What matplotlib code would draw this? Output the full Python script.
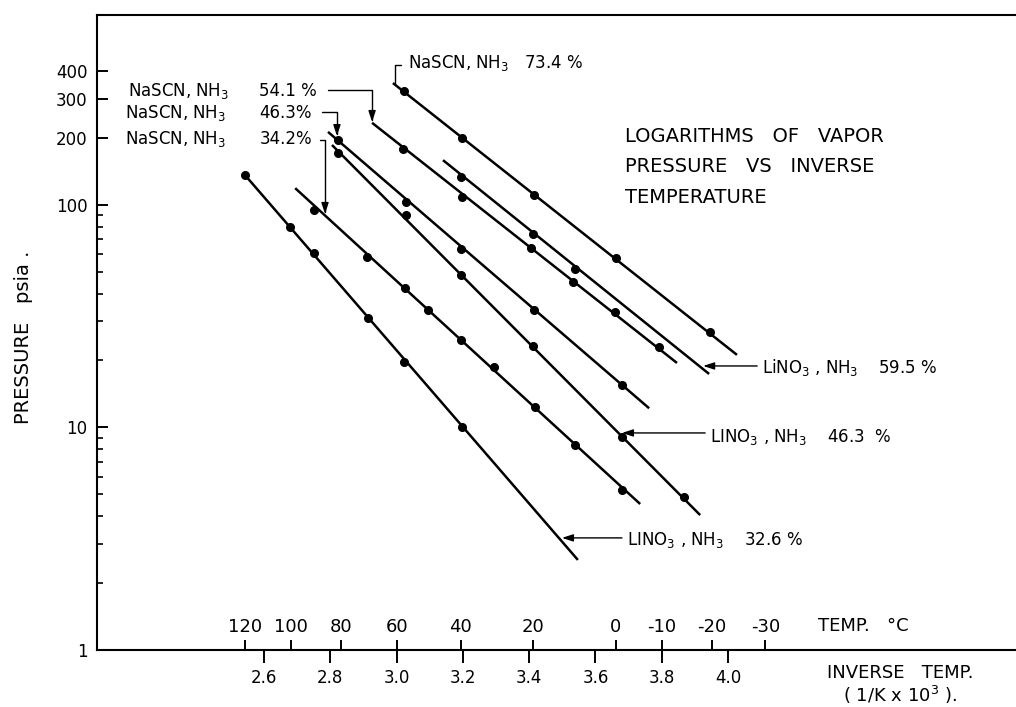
import numpy as np
import matplotlib
matplotlib.use("Agg")
import matplotlib.pyplot as plt
from matplotlib.ticker import NullFormatter

# Inverse temperature (1/K x 10^3) and vapor pressure (psia)
# LiNO3, NH3 32.6 %
li326_x = [2.543, 2.678, 2.751, 2.914, 3.022, 3.197]
li326_y = [136, 79.6, 60.8, 31.0, 19.7, 10.05]
li326_fit_x = [2.543, 3.547]
li326_fit_y = [136, 2.54]

# NaSCN, NH3 34.2 %
na342_x = [2.751, 2.911, 3.025, 3.095, 3.194, 3.294, 3.418, 3.538, 3.680]
na342_y = [94.9, 58.4, 42.4, 33.7, 24.7, 18.7, 12.4, 8.34, 5.24]
na342_fit_x = [2.694, 3.735]
na342_fit_y = [119, 4.53]

# NaSCN, NH3 46.3 %
na463_x = [2.823, 3.028, 3.194, 3.415, 3.680]
na463_y = [196, 103, 63.4, 33.7, 15.5]
na463_fit_x = [2.793, 3.762]
na463_fit_y = [213, 12.2]

# LiNO3, NH3 46.3 %
li463_x = [2.823, 3.028, 3.194, 3.412, 3.680, 3.867]
li463_y = [171, 90.2, 48.5, 23.3, 9.06, 4.87]
li463_fit_x = [2.805, 3.916]
li463_fit_y = [186, 4.04]

# NaSCN, NH3 54.1 %
na541_x = [3.019, 3.197, 3.406, 3.532, 3.659, 3.792]
na541_y = [178.5, 108.6, 64.1, 45.1, 33.0, 23.0]
na541_fit_x = [2.926, 3.846]
na541_fit_y = [234, 19.5]

# LiNO3, NH3 59.5 %
li595_x = [3.194, 3.412, 3.538]
li595_y = [133.6, 74.1, 51.6]
li595_fit_x = [3.140, 3.943]
li595_fit_y = [159, 17.4]

# NaSCN, NH3 73.4 %
na734_x = [3.022, 3.197, 3.415, 3.662, 3.946]
na734_y = [325, 200, 111, 57.8, 26.9]
na734_fit_x = [2.989, 4.027]
na734_fit_y = [353, 21.2]

inv_ticks = [2.6, 2.8, 3.0, 3.2, 3.4, 3.6, 3.8, 4.0]
inv_labels = ["2.6", "2.8", "3.0", "3.2", "3.4", "3.6", "3.8", "4.0"]
temp_ticks = [120, 100, 80, 60, 40, 20, 0, -10, -20, -30]
temp_labels = ["120", "100", "80", "60", "40", "20", "0", "-10", "-20", "-30"]
p_ticks = [1, 10, 100, 200, 300, 400]
p_labels = ["1", "10", "100", "200", "300", "400"]
p_minor = [2, 3, 4, 5, 6, 7, 8, 9, 20, 30, 40, 50, 60, 70, 80, 90]

plt.rcParams["font.family"] = ["DejaVu Sans"]

fig = plt.figure(figsize=(10.16, 7.07), dpi=100)
ax = fig.add_axes([97 / 1016, 57 / 707, 919 / 1016, 635 / 707])

series = [
    (li326_x, li326_y, li326_fit_x, li326_fit_y),
    (na342_x, na342_y, na342_fit_x, na342_fit_y),
    (na463_x, na463_y, na463_fit_x, na463_fit_y),
    (li463_x, li463_y, li463_fit_x, li463_fit_y),
    (na541_x, na541_y, na541_fit_x, na541_fit_y),
    (li595_x, li595_y, li595_fit_x, li595_fit_y),
    (na734_x, na734_y, na734_fit_x, na734_fit_y),
]
for px, py, fx, fy in series:
    ax.plot(fx, fy, color="black", lw=1.8, solid_capstyle="butt")
    ax.plot(px, py, "o", color="black", ms=5.5)

ax.set_yscale("log")
ax.set_xlim(2.096, 4.869)
ax.set_ylim(1, 714)

ax.set_yticks(p_ticks)
ax.set_yticklabels(p_labels)
ax.set_yticks(p_minor, minor=True)
ax.yaxis.set_minor_formatter(NullFormatter())
ax.tick_params(axis="y", which="major", direction="in", length=8, width=1.4,
               pad=7, labelsize=12)
ax.tick_params(axis="y", which="minor", direction="in", length=4, width=1.2)

ax.set_xticks(inv_ticks)
ax.set_xticklabels(inv_labels)
ax.tick_params(axis="x", direction="out", length=9, width=1.4, pad=5, labelsize=12)

for s in ["left", "top", "bottom"]:
    ax.spines[s].set_linewidth(1.5)
ax.spines["right"].set_visible(False)


def inv_to_c(x):
    with np.errstate(divide="ignore", invalid="ignore"):
        return 1000.0 / np.asarray(x, dtype=float) - 273.15


def c_to_inv(t):
    with np.errstate(divide="ignore", invalid="ignore"):
        return 1000.0 / (np.asarray(t, dtype=float) + 273.15)


sec = ax.secondary_xaxis("bottom", functions=(inv_to_c, c_to_inv))
sec.set_xticks(temp_ticks)
sec.set_xticklabels(temp_labels)
sec.tick_params(direction="in", length=7, width=1.4, pad=-23, labelsize=13)
sec.spines["bottom"].set_visible(False)

ax.set_ylabel("PRESSURE   psia .", fontsize=14)
ax.yaxis.set_label_coords(-0.07, 0.493)

ax.text(4.272, 1.28, "TEMP.   °C", fontsize=13, va="center", ha="left")
ax.text(4.52, -0.036, "INVERSE   TEMP.", fontsize=13, va="center", ha="center",
        transform=ax.get_xaxis_transform())
ax.text(4.52, -0.071, "( 1/K x 10$^3$ ).", fontsize=13, va="center", ha="center",
        transform=ax.get_xaxis_transform())

ax.text(3.689, 224, "LOGARITHMS   OF   VAPOR\nPRESSURE   VS   INVERSE\nTEMPERATURE",
        fontsize=14, va="top", ha="left", linespacing=1.75)

# labels and leader arrows
lab = dict(fontsize=12, va="baseline", ha="left")
ax.text(3.035, 413, "NaSCN, NH$_3$   73.4 %", **lab)
ax.text(2.190, 309, "NaSCN, NH$_3$", **lab)
ax.text(2.585, 309, "54.1 %", **lab)
ax.text(2.181, 246, "NaSCN, NH$_3$", **lab)
ax.text(2.585, 246, "46.3%", **lab)
ax.text(2.181, 188, "NaSCN, NH$_3$", **lab)
ax.text(2.588, 188, "34.2%", **lab)
ax.text(4.103, 17.6, "LiNO$_3$ , NH$_3$    59.5 %", **lab)
ax.text(3.946, 8.6, "LINO$_3$ , NH$_3$    46.3  %", **lab)
ax.text(3.695, 2.96, "LINO$_3$ , NH$_3$    32.6 %", **lab)

head = "-|>,head_length=0.55,head_width=0.18"
angled = "angle,angleA=0,angleB=90,rad=0"
arrows = [
    ((2.995, 350), (3.013, 426), "-", angled),
    ((2.926, 236), (2.793, 328.7), head, angled),
    ((2.820, 204), (2.775, 262), head, angled),
    ((2.784, 91.1), (2.769, 196), head, angled),
    ((3.925, 18.9), (4.088, 18.9), head, "arc3"),
    ((3.680, 9.45), (3.931, 9.45), head, "arc3"),
    ((3.499, 3.19), (3.680, 3.19), head, "arc3"),
]
for tip, tail, style, conn in arrows:
    ax.annotate("", xy=tip, xytext=tail,
                arrowprops=dict(arrowstyle=style, connectionstyle=conn, color="black",
                                lw=1.0, shrinkA=0, shrinkB=0, mutation_scale=12))

fig.savefig("out.png", dpi=100)
